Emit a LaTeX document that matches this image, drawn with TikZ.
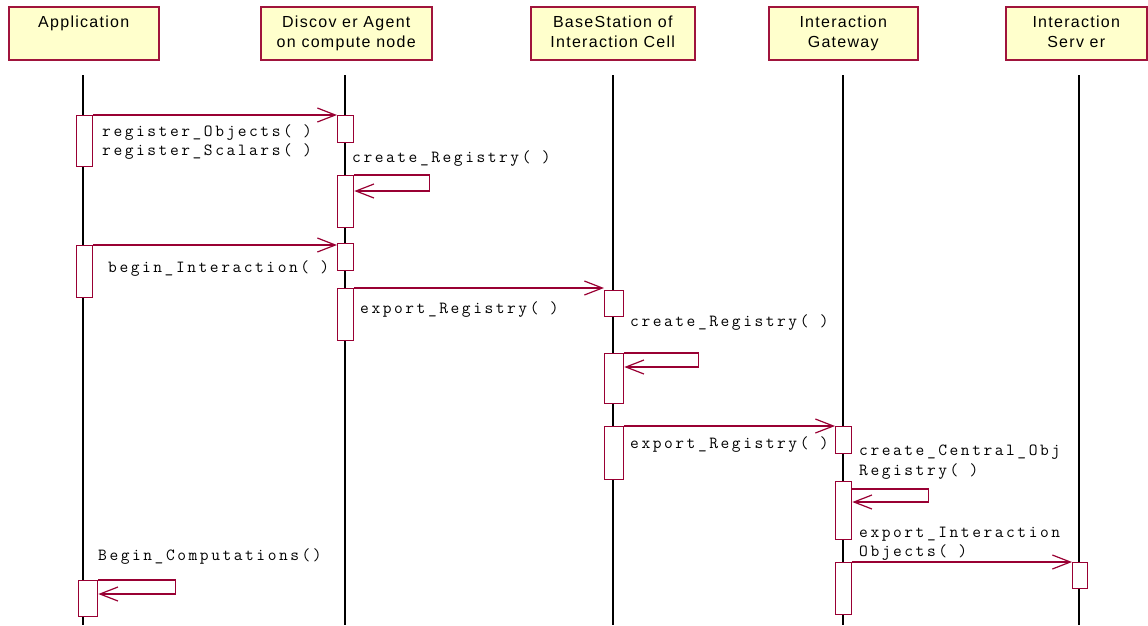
\documentclass[tikz,border=0pt]{standalone}
\usepackage{fontspec}
\setmainfont{Liberation Sans}
\newfontfamily\headfont[LetterSpace=8]{Liberation Sans}
\newfontfamily\msgfamily[LetterSpace=15]{Latin Modern Mono}
\usetikzlibrary{arrows.meta}
\definecolor{crim}{RGB}{153,0,51}
\definecolor{hdrline}{RGB}{160,20,60}
\definecolor{hdrfill}{RGB}{255,255,204}

\begin{document}
\begin{tikzpicture}[x=1pt,y=-1pt,
  head/.style={draw=hdrline, fill=hdrfill, line width=1.5pt, anchor=north west,
    minimum height=53pt, inner sep=0pt, align=center,
    font=\headfont\fontsize{16}{20}\selectfont},
  life/.style={line width=1.6pt, black},
  act/.style={draw=crim, fill=white, line width=1.3pt, anchor=north west,
    inner sep=0pt, minimum width=16pt},
  msg/.style={draw=crim, line width=1.2pt, -{Straight Barb[length=18pt,width=14pt]}},
  lbl/.style={anchor=base west, inner sep=0pt, font=\msgfamily\fontsize{17}{19.5}\selectfont}
]
\useasboundingbox (0,0) rectangle (1148,625);

% object headers (a short trailing row lifts the text slightly)
\node[head, minimum width=150pt] (happ) at (8,6) {Application\\\mbox{}\\[-16pt]};
\node[head, minimum width=171pt] (hdis) at (260,6) {Discov er Agent\\on compute node\\[-16pt]};
\node[head, minimum width=164pt] (hbas) at (530,6) {BaseStation of\\Interaction Cell\\[-16pt]};
\node[head, minimum width=149pt] (hgat) at (768,6) {Interaction\\Gateway\\[-16pt]};
\node[head, minimum width=141pt] (hsrv) at (1005,6) {Interaction\\Serv er\\[-16pt]};

% lifelines
\foreach \n/\x in {app/83, dis/345, bas/613, gat/843, srv/1079} {
  \coordinate (\n top) at (\x,75);
  \coordinate (\n bot) at (\x,625);
  \draw[life] (\n top) -- (\n bot);
}

% activations
\node[act, minimum height=51pt] (a1) at (76,115) {};
\node[act, minimum height=52pt] (a2) at (76,245) {};
\node[act, minimum width=19pt, minimum height=36pt] (a3) at (78,580) {};

\node[act, minimum height=27pt] (d1) at (337,115) {};
\node[act, minimum height=52pt] (d2) at (337,175) {};
\node[act, minimum height=27pt] (d3) at (337,243) {};
\node[act, minimum height=52pt] (d4) at (337,288) {};

\node[act, minimum width=19pt, minimum height=26pt] (b1) at (604,290) {};
\node[act, minimum width=19pt, minimum height=50pt] (b2) at (604,353) {};
\node[act, minimum width=19pt, minimum height=53pt] (b3) at (604,426) {};

\node[act, minimum height=27pt] (g1) at (835,426) {};
\node[act, minimum height=58pt] (g2) at (835,481) {};
\node[act, minimum height=52pt] (g3) at (835,562) {};

\node[act, minimum width=15pt, minimum height=26pt] (s1) at (1072,562) {};

% messages between objects
\draw[msg] (a1.north east) -- (d1.north west);
\draw[msg] (a2.north east) -- (a2.north east -| d3.west);
\draw[msg] (d4.north east) -- (d4.north east -| b1.west);
\draw[msg] (b3.north east) -- (g1.north west);
\draw[msg] (g3.north east) -- (s1.north west);

% self messages
\draw[msg] (d2.north east) -- ++(75,0) -- ++(0,16) -- ++(-75,0);
\draw[msg] (b2.north east) -- ++(74,0) -- ++(0,14) -- ++(-74,0);
\draw[msg] ([yshift=-8pt]g2.north east) -- ++(76,0) -- ++(0,13) -- ++(-76,0);
\draw[msg] (a3.north east) -- ++(77,0) -- ++(0,14) -- ++(-77,0);

% message labels
\node[lbl] (m1a) at (102,136) {register\_Objects( )};
\node[lbl] (m1b) at (102,155) {register\_Scalars( )};
\node[lbl] (m2) at (352,162) {create\_Registry( )};
\node[lbl] (m3) at (108,272) {begin\_Interaction( )};
\node[lbl] (m4) at (360,313) {export\_Registry( )};
\node[lbl] (m5) at (630,326) {create\_Registry( )};
\node[lbl] (m6) at (630,448) {export\_Registry( )};
\node[lbl] (m7a) at (859,455) {create\_Central\_Obj};
\node[lbl] (m7b) at (859,475) {Registry( )};
\node[lbl] (m8a) at (859,537) {export\_Interaction};
\node[lbl] (m8b) at (859,556) {Objects( )};
\node[lbl] (m9) at (98,560) {Begin\_Computations()};
\end{tikzpicture}
\end{document}
